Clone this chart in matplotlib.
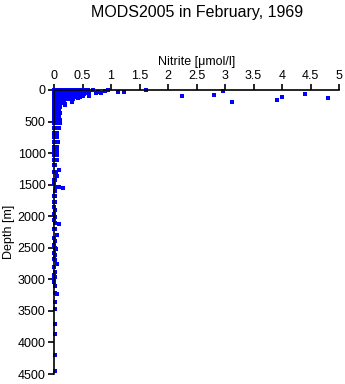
import matplotlib
matplotlib.use("Agg")
import matplotlib.pyplot as plt

# Nitrite [umol/l] vs depth [m]
nitrite = [
    # surface cluster, 0-20 m
    0.00, 0.02, 0.04, 0.06, 0.08, 0.10, 0.12, 0.15, 0.18, 0.20, 0.23, 0.26,
    0.29, 0.32, 0.35, 0.38, 0.41, 0.44, 0.47, 0.50, 0.53, 0.56, 0.59, 0.69,
    0.78, 0.90, 0.95, 1.61, 2.96,
    0.01, 0.05, 0.09, 0.13, 0.17, 0.21, 0.25, 0.30, 0.34, 0.39, 0.43, 0.48,
    0.52, 0.57,
    # 20-60 m
    0.00, 0.03, 0.06, 0.09, 0.12, 0.16, 0.19, 0.22, 0.25, 0.28, 0.31, 0.34,
    0.37, 0.40, 0.43, 0.46, 0.49, 0.52, 0.55, 0.58, 0.62, 0.73, 0.82, 1.13,
    1.22,
    0.01, 0.05, 0.08, 0.11, 0.14, 0.18, 0.21, 0.24, 0.27, 0.30, 0.33, 0.36,
    0.40, 0.44, 0.47, 0.51, 0.54, 0.57,
    # 60-100 m
    0.00, 0.02, 0.05, 0.08, 0.11, 0.14, 0.17, 0.20, 0.24, 0.27, 0.30, 0.33,
    0.36, 0.39, 0.42, 0.45, 0.48, 0.52, 0.62, 2.24, 2.80, 4.41,
    0.01, 0.04, 0.07, 0.10, 0.13, 0.16, 0.19, 0.22, 0.26, 0.29, 0.32, 0.35,
    0.38, 0.43, 0.47, 0.51,
    # 100-150 m
    0.00, 0.02, 0.04, 0.07, 0.10, 0.13, 0.16, 0.19, 0.22, 0.25, 0.28, 0.31,
    0.34, 0.38, 0.42, 0.46, 4.00, 4.80,
    0.01, 0.04, 0.07, 0.10, 0.13, 0.16, 0.20, 0.24, 0.28, 0.33,
    # 150-250 m
    0.00, 0.02, 0.04, 0.06, 0.08, 0.10, 0.12, 0.15, 0.18, 0.20, 0.31, 3.13,
    3.92,
    0.00, 0.02, 0.04, 0.06, 0.08, 0.10, 0.12, 0.20,
    # 250-500 m
    0.00, 0.02, 0.04, 0.06, 0.08, 0.10,
    0.00, 0.02, 0.04, 0.07, 0.09,
    0.00, 0.03, 0.06, 0.10,
    0.00, 0.02, 0.05, 0.08,
    0.00, 0.03, 0.06, 0.11,
    # 500-1000 m
    0.00, 0.03, 0.06, 0.10,
    0.00, 0.02, 0.05, 0.09,
    0.00, 0.03, 0.06,
    0.00, 0.02, 0.05,
    0.00, 0.03, 0.07,
    0.00, 0.02, 0.05,
    0.00, 0.03, 0.06,
    # 1000-2000 m
    0.00, 0.02, 0.06, 0.00, 0.03, 0.05, 0.00, 0.02, 0.08, 0.00, 0.03,
    0.05, 0.00, 0.02, 0.00, 0.04, 0.08, 0.16, 0.02, 0.00, 0.02, 0.00,
    0.02, 0.00, 0.02, 0.00, 0.02,
    # 2000-3000 m
    0.00, 0.02, 0.08, 0.00, 0.02, 0.05, 0.00, 0.02, 0.00, 0.02, 0.04,
    0.00, 0.02, 0.00, 0.02, 0.05, 0.00, 0.02, 0.00, 0.02, 0.00,
    # 3000-4500 m
    0.00, 0.02, 0.02, 0.05, 0.02, 0.02, 0.02, 0.02, 0.02, 0.02,
]
depth = [
    0, 0, 0, 0, 0, 0, 0, 0, 0, 0, 0, 0,
    0, 0, 0, 0, 0, 0, 0, 0, 0, 0, 0, 0,
    37, 10, 0, 5, 20,
    15, 15, 15, 15, 15, 15, 15, 15, 15, 15, 15, 15,
    15, 15,
    30, 30, 30, 30, 30, 30, 30, 30, 30, 30, 30, 30,
    30, 30, 30, 30, 30, 30, 30, 30, 40, 55, 45, 30,
    30,
    50, 50, 50, 50, 50, 50, 50, 50, 50, 50, 50, 50,
    50, 50, 50, 50, 50, 50,
    75, 75, 75, 75, 75, 75, 75, 75, 75, 75, 75, 75,
    75, 75, 75, 75, 75, 70, 90, 90, 85, 63,
    95, 95, 95, 95, 95, 95, 95, 95, 95, 95, 95, 95,
    95, 95, 95, 95,
    120, 120, 120, 120, 120, 120, 120, 120, 120, 120, 120, 120,
    120, 110, 130, 105, 110, 130,
    145, 145, 145, 145, 145, 145, 145, 145, 145, 145,
    170, 170, 170, 170, 170, 170, 170, 170, 170, 240, 185, 185,
    165,
    210, 210, 210, 210, 210, 210, 210, 220,
    270, 270, 270, 270, 270, 270,
    320, 320, 320, 320, 320,
    370, 370, 370, 370,
    420, 420, 420, 420,
    470, 470, 470, 470,
    530, 530, 530, 530,
    600, 600, 600, 600,
    680, 680, 680,
    750, 750, 750,
    820, 820, 820,
    900, 900, 900,
    960, 960, 960,
    1030, 1030, 1030, 1110, 1110, 1110, 1190, 1190, 1270, 1300, 1300,
    1365, 1420, 1420, 1480, 1530, 1530, 1560, 1600, 1680, 1680, 1770,
    1770, 1850, 1900, 1960, 2010,
    2060, 2100, 2130, 2200, 2200, 2300, 2350, 2390, 2450, 2500, 2520,
    2580, 2615, 2680, 2700, 2760, 2800, 2880, 2930, 2960, 3000,
    3050, 3100, 3220, 3235, 3355, 3475, 3715, 3860, 4200, 4445,
]

x_ticks = [0, 0.5, 1, 1.5, 2, 2.5, 3, 3.5, 4, 4.5, 5]
x_tick_labels = ["0", "0.5", "1", "1.5", "2", "2.5", "3", "3.5", "4", "4.5", "5"]
y_ticks = [0, 500, 1000, 1500, 2000, 2500, 3000, 3500, 4000, 4500]

plt.rcParams["font.family"] = ["Liberation Sans", "DejaVu Sans"]

fig = plt.figure(figsize=(3.45, 3.84), dpi=100)
ax = fig.add_axes([54 / 345, 1 - 374 / 384, 285 / 345, 284 / 384])

ax.plot(nitrite, depth, linestyle="none", marker="s", markersize=2.3,
        markeredgewidth=0, color="#0000ff", clip_on=False)

ax.set_xlim(0, 5)
ax.set_ylim(4500, 0)

# axis on top, only left and top spines
ax.xaxis.set_ticks_position("top")
ax.xaxis.set_label_position("top")
ax.spines["right"].set_visible(False)
ax.spines["bottom"].set_visible(False)
ax.spines["left"].set_linewidth(1.2)
ax.spines["top"].set_linewidth(1.2)

ax.set_xticks(x_ticks)
ax.set_xticklabels(x_tick_labels)
ax.set_yticks(y_ticks)
ax.tick_params(axis="both", direction="out", length=4, width=1.2,
               labelsize=9, pad=2)

ax.set_xlabel("Nitrite [\u03bcmol/l]", fontsize=9, labelpad=3)
ax.set_ylabel("Depth [m]", fontsize=9, labelpad=2)

fig.text(0.57, 1 - 12 / 384, "MODS2005 in February, 1969",
         ha="center", va="center", fontsize=11.5)

fig.savefig("out.png", dpi=100)
